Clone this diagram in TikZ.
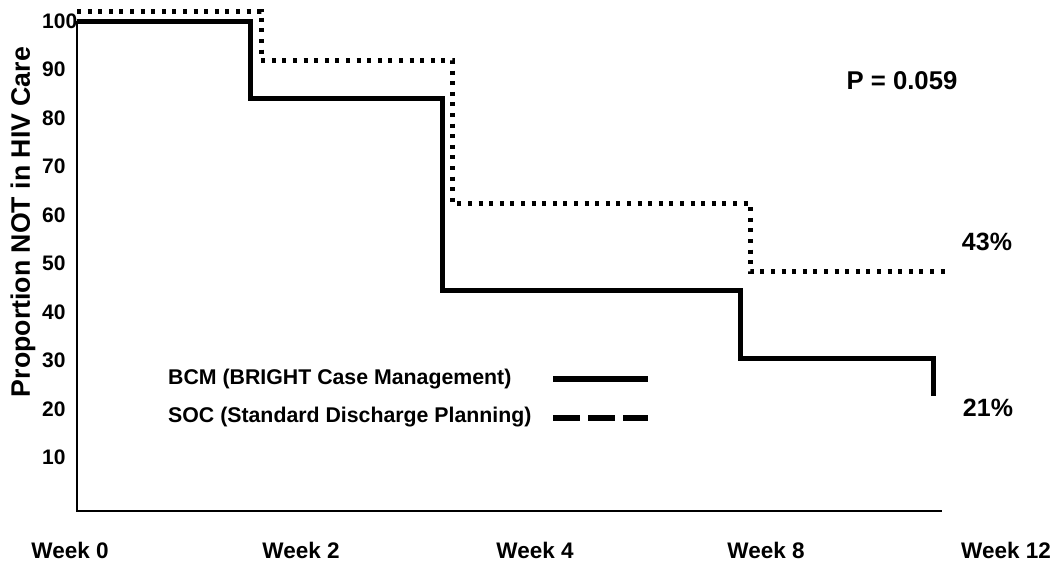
\documentclass[tikz,border=0pt]{standalone}
\usepackage{fontspec}
\setmainfont{Liberation Sans}
\usepackage{tikz}
\tikzset{
  bcm/.style={line width=5pt, line join=miter},
  soc/.style={line width=5pt, dash pattern=on 4pt off 6.6pt},
  txt/.style={inner sep=0pt, font=\bfseries\fontsize{#1}{#1}\selectfont},
  txt/.default=21.3
}
\def\vy#1{21+(100-#1)*4.85}

\begin{document}
\begin{tikzpicture}[x=1pt, y=-1pt]
			%%%%% START %%%%%
			\useasboundingbox (0, 0) rectangle (1054, 562);
			
			\draw[line width=2pt] (77, 21) -- (77, 511) -- (942, 511);
			
			\foreach \v in {10, 20, ..., 100}
				\node[txt=21, anchor=west] (tick\v) at (42, {\vy{\v}}) {\v};
			
			\foreach \w/\xx in {0/70, 2/301, 4/535, 8/766, 12/1006}
				\node[txt=22.5] (week\w) at (\xx, 550) {Week \w};
			
			\node[txt=26.7, rotate=90] (ylab) at (23, 222) {Proportion NOT in HIV Care};
			
			\draw[soc] (77, 11) -- (261, 11) -- (261, 60) -- (452, 60) -- (452, 203) -- (750, 203) -- (750, 271) -- (947, 271);
			\draw[bcm] (77, 21) -- (250, 21) -- (250, 98) -- (442, 98) -- (442, 290) -- (740, 290) -- (740, 358) -- (933, 358) -- (933, 396);
			
			\node[txt=25.7] (pval) at (902, 81) {P = 0.059};
			\node[txt=25] (soc end) at (987, 242) {43\%};
			\node[txt=25] (bcm end) at (988, 408) {21\%};
			
			\node[txt, anchor=west] (bcm key) at (168, 379) {BCM (BRIGHT Case Management)};
			\node[txt, anchor=west] (soc key) at (168, 417) {SOC (Standard Discharge Planning)};
			\draw[line width=6.5pt] (553, 379) -- (648, 379);
			\draw[line width=6.5pt, dash pattern=on 27pt off 8pt] (553, 418) -- (648, 418);
			%%%%% END %%%%%
\end{tikzpicture}
\end{document}
